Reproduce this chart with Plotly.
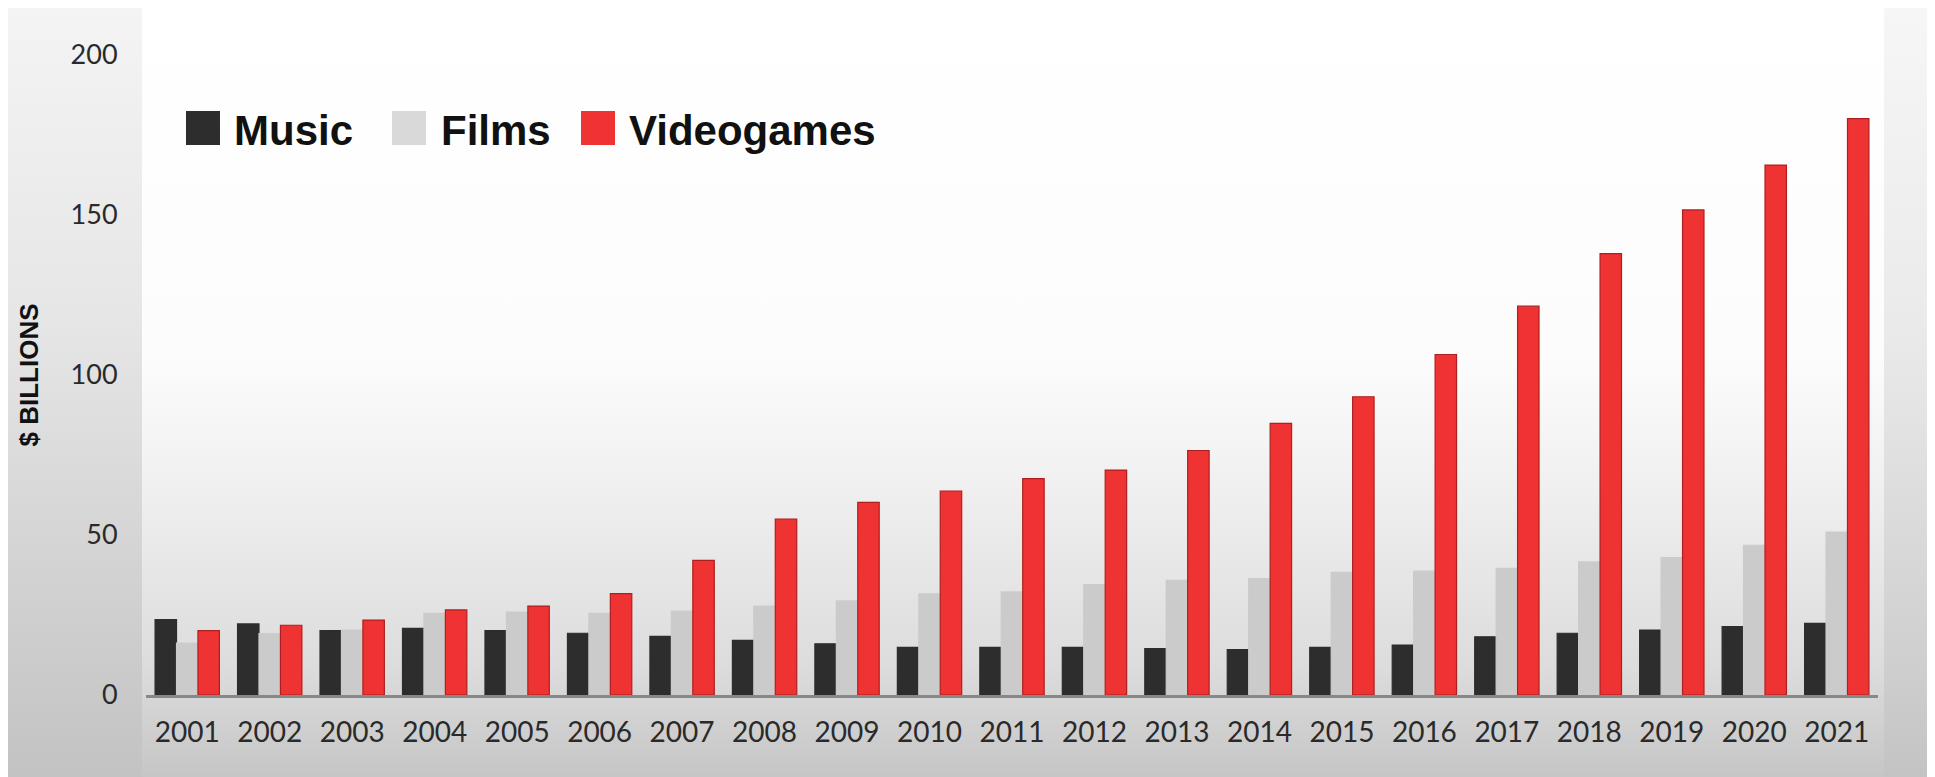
import base64
import plotly.graph_objects as go

# values ($ billions)
years = [str(y) for y in range(2001, 2022)]
music = [23.6, 22.2, 20.1, 20.8, 20.1, 19.3, 18.3, 17.1, 16.0, 14.9, 14.9,
         14.9, 14.5, 14.2, 14.9, 15.6, 18.2, 19.3, 20.3, 21.4, 22.4]
films = [16.2, 19.2, 20.3, 25.5, 25.9, 25.5, 26.2, 27.8, 29.4, 31.6, 32.2,
         34.5, 35.8, 36.4, 38.3, 38.7, 39.6, 41.6, 42.9, 46.8, 50.9]
videogames = [20.1, 21.8, 23.4, 26.6, 27.8, 31.7, 42.1, 55.0, 60.2, 63.7, 67.6,
              70.3, 76.4, 84.9, 93.2, 106.4, 121.5, 137.9, 151.6, 165.6, 180.1]
series_names = ["Music", "Films", "Videogames"]
y_ticks = [0, 50, 100, 150, 200]

colors = ["#2d2d2d", "#cbcbcb", "#ef3232"]
edge_colors = ["#2d2d2d", "#cbcbcb", "#b01f1f"]

# page body adds ~8px, so margins are pulled in by that much
W, H = 1935, 777
L, R, T, B = 138, 65, 47, 90
PW, PH = W - L - R, H - T - B

# soft grey backdrop like the video frame
svg = f"""<svg xmlns='http://www.w3.org/2000/svg' width='{W}' height='{H}'>
<defs>
<linearGradient id='v' x1='0' y1='0' x2='0' y2='1'>
<stop offset='0' stop-color='#ffffff'/>
<stop offset='0.45' stop-color='#fcfcfc'/>
<stop offset='0.6' stop-color='#f1f1f1'/>
<stop offset='0.85' stop-color='#dcdcdc'/>
<stop offset='1' stop-color='#c4c4c4'/>
</linearGradient>
<linearGradient id='s' x1='0' y1='0' x2='0' y2='1'>
<stop offset='0' stop-color='#f4f4f4'/>
<stop offset='0.4' stop-color='#e6e6e6'/>
<stop offset='1' stop-color='#c2c2c2'/>
</linearGradient>
</defs>
<rect width='{W}' height='{H}' fill='url(#v)'/>
<rect width='{L - 4}' height='{H}' fill='url(#s)'/>
<rect x='{W - R + 6}' width='{R}' height='{H}' fill='url(#s)' opacity='0.8'/>
</svg>"""
bg_src = "data:image/svg+xml;base64," + base64.b64encode(svg.encode()).decode()

fig = go.Figure()
for name, vals, c, ec in zip(series_names, [music, films, videogames], colors, edge_colors):
    fig.add_trace(go.Bar(
        x=years, y=vals, name=name,
        marker=dict(color=c, line=dict(color=ec, width=1.2)),
        showlegend=False,
    ))

# hand-made legend with big squares (figure pixel coords)
legend_sq_x = [178, 384, 573]
legend_txt_x = [224, 431, 619]
sq = 34
cy = 120


def px(v):
    return (v - L) / PW


def py(v):
    return 1 - (v - T) / PH


shapes = []
annotations = []
for name, c, sx, tx in zip(series_names, colors, legend_sq_x, legend_txt_x):
    shapes.append(dict(type="rect", xref="paper", yref="paper",
                       x0=px(sx), x1=px(sx + sq), y0=py(cy + sq / 2), y1=py(cy - sq / 2),
                       fillcolor=c if name != "Films" else "#d9d9d9", line=dict(width=0)))
    annotations.append(dict(xref="paper", yref="paper", x=px(tx), y=py(cy + 2),
                            xanchor="left", yanchor="middle", showarrow=False,
                            text=f"<b>{name}</b>",
                            font=dict(family="Liberation Sans", size=42, color="#111111")))

fig.update_layout(
    width=W, height=H,
    margin=dict(l=L, r=R, t=T, b=B),
    paper_bgcolor="#e8e8e8",
    plot_bgcolor="rgba(0,0,0,0)",
    barmode="group",
    bargap=0.22,
    bargroupgap=0,
    font=dict(family="Lato", size=28, color="#2a2a2a"),
    images=[dict(source=bg_src, xref="paper", yref="paper",
                 x=-L / PW, y=1 + T / PH, sizex=W / PW, sizey=H / PH,
                 xanchor="left", yanchor="top", sizing="stretch", layer="below")],
    shapes=shapes,
    annotations=annotations,
    xaxis=dict(
        showline=True, linecolor="#888888", linewidth=3,
        showgrid=False, ticks="outside", ticklen=10, tickcolor="rgba(0,0,0,0)",
        tickfont=dict(family="Lato", size=28, color="#2a2a2a"),
    ),
    yaxis=dict(
        range=[0, 200], tickvals=y_ticks, showgrid=False, zeroline=False,
        showline=False, ticks="outside", ticklen=22, tickcolor="rgba(0,0,0,0)",
        tickfont=dict(family="Lato", size=27, color="#2a2a2a"),
        title=dict(text="<b>$ BILLIONS</b>", standoff=24,
                   font=dict(family="Liberation Sans", size=26, color="#111111")),
    ),
)

fig.write_html("out.html")
